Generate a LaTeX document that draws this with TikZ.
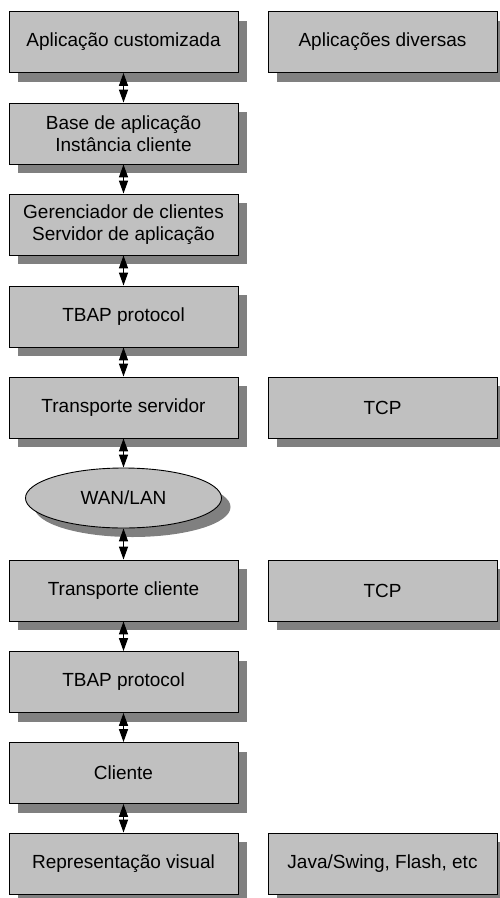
\documentclass[tikz,border=0pt]{standalone}
\usepackage{fontspec}
\setmainfont{Liberation Sans}
\usetikzlibrary{shapes.geometric,shadows,arrows.meta}
\definecolor{boxgray}{RGB}{192,192,192}
\definecolor{shadegray}{RGB}{128,128,128}
\tikzset{
  layer/.style={draw=black, line width=0.9pt, fill=boxgray, rectangle,
    minimum width=229pt, minimum height=61pt, inner sep=0pt, align=center,
    font=\fontsize{19pt}{22pt}\selectfont,
    drop shadow={shadow xshift=9pt, shadow yshift=-9pt, fill=shadegray, opacity=1}},
  net/.style={draw=black, line width=0.9pt, fill=boxgray, ellipse,
    minimum width=196pt, minimum height=60pt, inner sep=0pt,
    font=\fontsize{19pt}{22pt}\selectfont,
    drop shadow={shadow xshift=9pt, shadow yshift=-9pt, fill=shadegray, opacity=1}},
  link/.style={line width=1.4pt, {Triangle[length=13pt,width=9pt]}-{Triangle[length=13pt,width=9pt]}}
}
\begin{document}
\begin{tikzpicture}[x=1pt, y=-1pt]
  \useasboundingbox (0,0) rectangle (500,898);
  % left column: the protocol stack
  \node[layer] (app)   at (123.5,42)    {Aplicação customizada};
  \node[layer] (base)  at (123.5,133.5) {Base de aplicação\\Instância cliente};
  \node[layer] (ger)   at (123.5,224.5) {Gerenciador de clientes\\Servidor de aplicação};
  \node[layer] (tbaps) at (123.5,316.5) {TBAP protocol};
  \node[layer] (trs)   at (123.5,407.5) {Transporte servidor};
  \node[net]   (wan)   at (123.5,498)   {WAN/LAN};
  \node[layer] (trc)   at (123.5,590.5) {Transporte cliente};
  \node[layer] (tbapc) at (123.5,682)   {TBAP protocol};
  \node[layer] (cli)   at (123.5,773)   {Cliente};
  \node[layer] (vis)   at (123.5,863.5) {Representação visual};
  % right column: concrete technologies
  \node[layer] (div)   at (382.5,42)    {Aplicações diversas};
  \node[layer] (tcps)  at (382.5,407.5) {TCP};
  \node[layer] (tcpc)  at (382.5,590.5) {TCP};
  \node[layer] (java)  at (382.5,863.5) {Java/Swing, Flash, etc};
  % two-way links between adjacent layers
  \draw[link] (app.south)   -- (base.north);
  \draw[link] (base.south)  -- (ger.north);
  \draw[link] (ger.south)   -- (tbaps.north);
  \draw[link] (tbaps.south) -- (trs.north);
  \draw[link] (trs.south)   -- (wan.north);
  \draw[link] (wan.south)   -- (trc.north);
  \draw[link] (trc.south)   -- (tbapc.north);
  \draw[link] (tbapc.south) -- (cli.north);
  \draw[link] (cli.south)   -- (vis.north);
\end{tikzpicture}
\end{document}
